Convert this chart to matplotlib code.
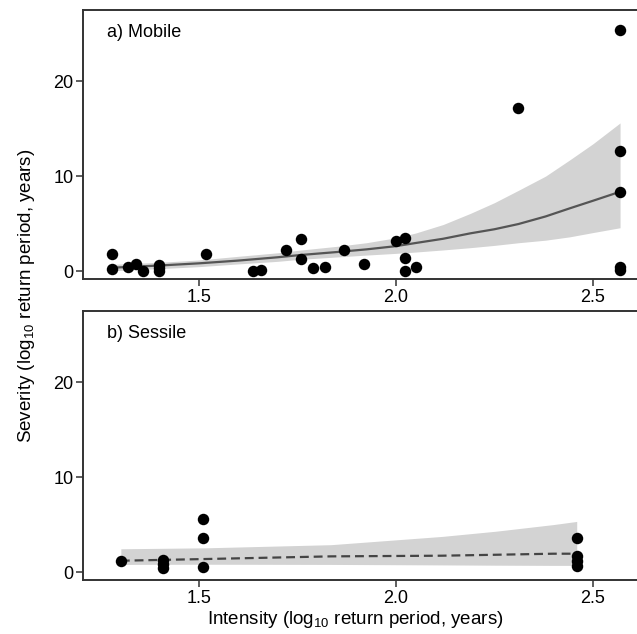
import matplotlib
matplotlib.use('Agg')
import matplotlib.pyplot as plt
import numpy as np

plt.rcParams['font.family'] = ['Liberation Sans', 'DejaVu Sans']
plt.rcParams['mathtext.fontset'] = 'custom'
plt.rcParams['mathtext.rm'] = 'Liberation Sans'

# ---- a) Mobile: observed points
mob_x = [1.279, 1.279, 1.319, 1.340, 1.359, 1.399, 1.399, 1.399, 1.519, 1.638,
         1.659, 1.720, 1.760, 1.760, 1.789, 1.820, 1.869, 1.920, 2.000, 2.023,
         2.023, 2.023, 2.052, 2.311, 2.569, 2.569, 2.569, 2.569, 2.569]
mob_y = [1.79, 0.18, 0.40, 0.70, 0.03, 0.60, 0.35, 0.00, 1.79, 0.03,
         0.10, 2.21, 3.33, 1.23, 0.35, 0.42, 2.21, 0.74, 3.19, 3.44,
         1.40, 0.03, 0.46, 17.2, 25.4, 12.6, 8.35, 0.40, 0.10]

# fitted curve and confidence band
mob_fit_x = [1.279, 1.40, 1.50, 1.60, 1.70, 1.756, 1.85, 1.925, 2.00, 2.05, 2.12,
             2.189, 2.25, 2.311, 2.38, 2.441, 2.50, 2.569]
mob_fit_y = [0.35, 0.58, 0.81, 1.10, 1.45, 1.68, 2.00, 2.28, 2.62, 2.95, 3.40,
             3.97, 4.40, 4.95, 5.75, 6.60, 7.40, 8.35]
mob_lo = [0.03, 0.25, 0.46, 0.75, 1.02, 1.23, 1.48, 1.68, 1.86, 2.00, 2.22,
          2.46, 2.70, 2.98, 3.25, 3.60, 4.05, 4.56]
mob_hi = [0.70, 0.92, 1.16, 1.55, 1.92, 2.20, 2.60, 2.98, 3.50, 4.00, 4.90,
          6.07, 7.20, 8.50, 10.0, 11.7, 13.4, 15.6]

# ---- b) Sessile: observed points
ses_x = [1.302, 1.409, 1.409, 1.409, 1.510, 1.510, 1.510, 2.459, 2.459, 2.459, 2.459]
ses_y = [1.19, 1.30, 0.85, 0.40, 5.58, 3.58, 0.49, 3.58, 1.72, 1.12, 0.60]

ses_fit_x = [1.302, 1.517, 1.835, 2.117, 2.254, 2.400, 2.459]
ses_fit_y = [1.19, 1.37, 1.65, 1.72, 1.82, 1.93, 1.93]
ses_lo = [0.80, 0.82, 0.80, 0.75, 0.72, 0.70, 0.70]
ses_hi = [2.45, 2.55, 2.88, 3.75, 4.30, 5.00, 5.33]

panels = [('a) Mobile', mob_x, mob_y, mob_fit_x, mob_fit_y, mob_lo, mob_hi, '-'),
          ('b) Sessile', ses_x, ses_y, ses_fit_x, ses_fit_y, ses_lo, ses_hi, '--')]

W, H = 637, 634
fig = plt.figure(figsize=(W / 100, H / 100), dpi=100)
boxes = [(83, 10, 279), (83, 311, 580)]  # left, top, bottom in pixels

for (lab, px, py, fx, fy, lo, hi, ls), (l, t, b) in zip(panels, boxes):
    ax = fig.add_axes([l / W, 1 - b / H, 1 - l / W, (b - t) / H])
    ax.fill_between(fx, lo, hi, color='#d3d3d3', lw=0, zorder=1)
    if ls == '-':
        ax.plot(fx, fy, color='#555555', lw=1.6, zorder=2)
    else:
        ax.plot(fx, fy, color='#444444', lw=1.6, dashes=(4, 2.2), zorder=2)
    ax.scatter(px, py, s=68, color='black', lw=0, zorder=3)
    ax.set_xlim(1.206, 2.612)
    ax.set_ylim(-0.84, 27.5)
    ax.set_xticks([1.5, 2.0, 2.5])
    ax.set_xticklabels(['1.5', '2.0', '2.5'])
    ax.set_yticks([0, 10, 20])
    ax.spines['right'].set_visible(False)
    for s in ['top', 'left', 'bottom']:
        ax.spines[s].set_color('#333333')
        ax.spines[s].set_linewidth(1.4)
    ax.tick_params(direction='out', length=5, width=1.1, color='#333333',
                   labelsize=13, labelcolor='black', pad=2)
    ax.text(0.043, 0.915, lab, transform=ax.transAxes, fontsize=13,
            ha='left', va='center')

fig.text(355 / W, 1 - 620 / H, r'Intensity (log$_{\mathrm{10}}$ return period, years)',
         ha='center', va='center', fontsize=13.5)
fig.text(27 / W, 1 - 296 / H, r'Severity (log$_{\mathrm{10}}$ return period, years)',
         ha='center', va='center', rotation=90, fontsize=13.5)

fig.savefig('out.png', dpi=100)
